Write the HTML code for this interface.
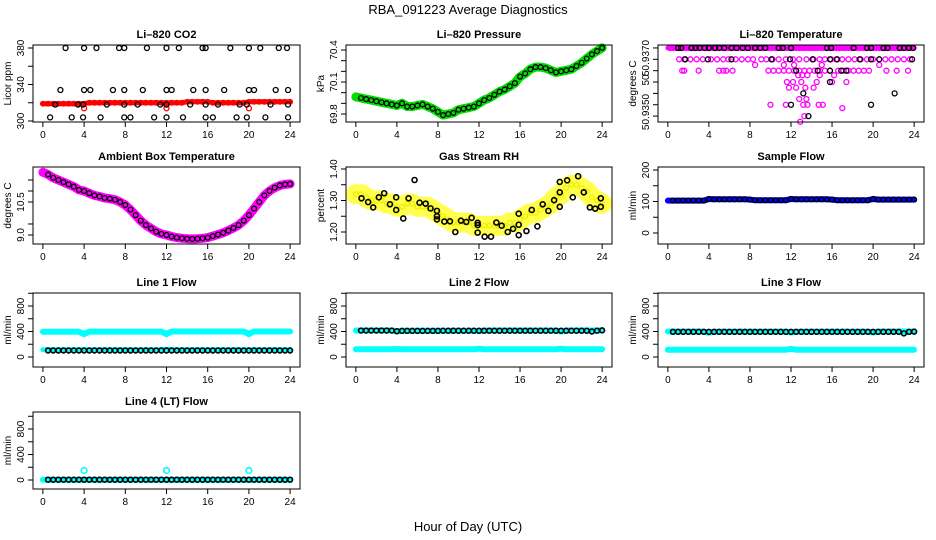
<!DOCTYPE html>
<html><head><meta charset="utf-8">
<style>
html,body{margin:0;padding:0;background:#fff;}
svg{display:block;font-family:"Liberation Sans",Arial,sans-serif;}
</style></head>
<body>
<svg id="chart" width="936" height="540" viewBox="0 0 936 540" xmlns="http://www.w3.org/2000/svg">
<rect width="936" height="540" fill="#fff"/>
<text x="468" y="14" text-anchor="middle" font-size="13">RBA_091223  Average Diagnostics</text>
<text x="468" y="531" text-anchor="middle" font-size="13">Hour of Day (UTC)</text>
</svg>
<script>
const gridHours=[0,0.5,1,1.5,2,2.5,3,3.5,4,4.5,5,5.5,6,6.5,7,7.5,8,8.5,9,9.5,10,10.5,11,11.5,12,12.5,13,13.5,14,14.5,15,15.5,16,16.5,17,17.5,18,18.5,19,19.5,20,20.5,21,21.5,22,22.5,23,23.5,24];
const xTicks=[0,4,8,12,16,20,24];

// CO2
const co2Red=[319,319,319,319,319,319,319,319,319,320,320,320,320,320,320,320,320,320,320,320,320,320,320,320,320,320,320,320,321,321,321,321,321,320,320,320,320,320,320,320,321,321,321,321,321,321,321,321,321];
const co2OutHours=[4,12,20];
const co2OutVals=[314,314,314];
const co2BlackHours=[2.2,4,5.2,7.4,7.9,10.1,12,13.2,15.5,15.8,18.2,20,21.1,22.9,23.7,1.7,4,4.6,6.8,7.9,9.7,12,12.5,14.6,15.8,17.6,20,20.5,22.6,23.8,1.2,3.4,3.9,6.2,7.9,9.2,11.4,12,14.3,15.8,17,19.1,19.8,22.1,23.8,0.7,2.8,3.9,5.6,7.9,8.5,10.8,12,13.6,15.8,16.5,18.8,19.8,21.6,23.8];
const co2BlackVals=[380,380,380,380,380,380,380,380,380,380,380,380,380,380,380,334,334,334,334,334,334,334,334,334,334,334,334,334,334,334,318,318,318,318,318,318,318,318,318,318,318,318,318,318,318,304,304,304,304,304,304,304,304,304,304,304,304,304,304,304];

// Pressure
const presGreen=[69.96,69.95,69.94,69.93,69.92,69.91,69.90,69.89,69.88,69.90,69.87,69.87,69.88,69.89,69.87,69.85,69.82,69.79,69.80,69.81,69.84,69.85,69.86,69.87,69.90,69.93,69.95,69.98,70.01,70.03,70.06,70.09,70.15,70.18,70.22,70.24,70.24,70.23,70.21,70.19,70.20,70.21,70.22,70.25,70.28,70.32,70.36,70.39,70.42];

// Li-820 temperature
const tempMagHours=[0.2,0.5,0.8,1.1,1.4,1.7,2,2.3,2.6,2.9,3.2,3.5,3.8,4.1,4.4,4.7,5,5.3,5.6,5.9,6.2,6.5,6.8,7.1,7.4,7.7,8,8.3,8.6,8.9,9.2,9.5,9.8,10.1,10.4,10.7,11,11.3,11.6,11.9,12.2,12.5,12.8,13.1,13.4,13.7,14,14.3,14.6,14.9,15.2,15.5,15.8,16.1,16.4,16.7,17,17.3,17.6,17.9,18.2,18.5,18.8,19.1,19.4,19.7,20,20.3,20.6,20.9,21.2,21.5,21.8,22.1,22.4,22.7,23,23.3,23.6,23.9,
1.1,1.6,2.2,2.8,3.4,4.2,4.8,5.4,5.9,6.6,7.2,7.8,8.3,9.1,9.6,10.2,10.8,11.5,12.2,12.8,13.5,14.2,14.8,15.3,15.9,16.4,17,17.6,18.2,18.8,19.4,20,20.6,21.2,21.8,22.4,23,23.6,
1.4,1.6,3,5,5.4,5.7,6.3,9.8,10.3,10.8,11.3,11.8,12.3,12.8,13.3,13.8,14.3,14.8,15.3,15.8,16.6,17.1,17.6,18.1,18.6,19.1,19.6,21.3,22.3,23.4,
8.5,11.3,12.3,15,20.6,12.7,13.1,13.6,14.8,16.2,11.6,12.2,13,14.5,16,17.4,11.8,12.5,13.4,14.2,12.8,13.5,10,11.5,13.2,13.6,14.7,15.1,17,13.3,12.9];
const tempMagVals=[50.9375,50.9375,50.9375,50.9375,50.9375,50.9375,50.9375,50.9375,50.9375,50.9375,50.9375,50.9375,50.9375,50.9375,50.9375,50.9375,50.9375,50.9375,50.9375,50.9375,50.9375,50.9375,50.9375,50.9375,50.9375,50.9375,50.9375,50.9375,50.9375,50.9375,50.9375,50.9375,50.9375,50.9375,50.9375,50.9375,50.9375,50.9375,50.9375,50.9375,50.9375,50.9375,50.9375,50.9375,50.9375,50.9375,50.9375,50.9375,50.9375,50.9375,50.9375,50.9375,50.9375,50.9375,50.9375,50.9375,50.9375,50.9375,50.9375,50.9375,50.9375,50.9375,50.9375,50.9375,50.9375,50.9375,50.9375,50.9375,50.9375,50.9375,50.9375,50.9375,50.9375,50.9375,50.9375,50.9375,50.9375,50.9375,50.9375,50.9375,
50.937,50.937,50.937,50.937,50.937,50.937,50.937,50.937,50.937,50.937,50.937,50.937,50.937,50.937,50.937,50.937,50.937,50.937,50.937,50.937,50.937,50.937,50.937,50.937,50.937,50.937,50.937,50.937,50.937,50.937,50.937,50.937,50.937,50.937,50.937,50.937,50.937,50.937,
50.9365,50.9365,50.9365,50.9365,50.9365,50.9365,50.9365,50.9365,50.9365,50.9365,50.9365,50.9365,50.9365,50.9365,50.9365,50.9365,50.9365,50.9365,50.9365,50.9365,50.9365,50.9365,50.9365,50.9365,50.9365,50.9365,50.9365,50.9365,50.9365,50.9365,
50.93675,50.93675,50.93675,50.93675,50.93675,50.9363,50.9363,50.9363,50.9363,50.9363,50.9360,50.9360,50.9360,50.9360,50.9360,50.9360,50.93575,50.93575,50.93575,50.93575,50.93525,50.93525,50.9350,50.9350,50.9350,50.9350,50.9350,50.9350,50.93485,50.9345,50.93425];
const tempBlackHours=[1,1.3,2.3,2.7,3.1,3.6,4,4.6,5,5.5,6.2,6.7,7.3,7.8,8.5,9,9.5,10.8,11.2,12,15.5,15.9,18.1,19.4,19.8,21,21.4,22.6,23,23.5,23.9,1.7,3.9,6.2,10.1,11.9,14.1,15.8,16.5,18.7,19.8,20.6,23.8,12.5,14.6,15.8,16.9,17.4,15.8,13.2,22.1,12,19.8,13.7];
const tempBlackVals=[50.9375,50.9375,50.9375,50.9375,50.9375,50.9375,50.9375,50.9375,50.9375,50.9375,50.9375,50.9375,50.9375,50.9375,50.9375,50.9375,50.9375,50.9375,50.9375,50.9375,50.9375,50.9375,50.9375,50.9375,50.9375,50.9375,50.9375,50.9375,50.9375,50.9375,50.9375,50.937,50.937,50.937,50.937,50.937,50.937,50.937,50.937,50.937,50.937,50.937,50.937,50.9365,50.9365,50.9365,50.9365,50.9365,50.9360,50.9355,50.9355,50.9350,50.9350,50.9345];

// Ambient box temperature
const ambMag=[11.85,11.75,11.6,11.5,11.4,11.3,11.2,11.05,11.0,10.9,10.8,10.75,10.68,10.65,10.6,10.5,10.36,10.15,9.9,9.65,9.45,9.3,9.15,9.05,9.0,8.93,8.88,8.85,8.83,8.82,8.83,8.85,8.88,8.95,9.02,9.1,9.2,9.32,9.45,9.65,9.9,10.2,10.5,10.8,11.0,11.15,11.25,11.3,11.32];

// Gas stream RH
const rhYellow=[1.32,1.32,1.31,1.30,1.30,1.30,1.29,1.29,1.28,1.28,1.29,1.29,1.28,1.28,1.28,1.27,1.26,1.25,1.24,1.23,1.23,1.23,1.23,1.22,1.22,1.22,1.22,1.22,1.22,1.22,1.23,1.23,1.24,1.25,1.26,1.26,1.27,1.28,1.29,1.31,1.32,1.34,1.35,1.35,1.34,1.33,1.31,1.30,1.29];
const rhBlackHours=[0.55,1.2,1.69,2.24,2.76,3.32,3.93,3.93,4.62,5.14,5.72,6.21,6.8,7.28,7.9,7.9,7.9,8.62,9.17,9.69,10.24,10.76,11.28,11.87,11.87,11.87,12.55,13.17,13.69,14.21,14.8,15.32,15.87,15.87,15.87,16.62,17.14,17.69,18.21,18.76,19.32,19.87,19.87,19.87,20.59,21.14,21.66,22.21,22.8,23.32,23.87,23.87];
const rhBlackVals=[1.307,1.295,1.278,1.31,1.323,1.288,1.27,1.31,1.243,1.307,1.365,1.293,1.29,1.275,1.25,1.267,1.24,1.233,1.234,1.2,1.236,1.232,1.245,1.229,1.222,1.198,1.185,1.185,1.23,1.22,1.2,1.21,1.258,1.223,1.19,1.203,1.27,1.218,1.288,1.267,1.301,1.359,1.326,1.28,1.364,1.31,1.377,1.326,1.278,1.274,1.307,1.28];

// Sample flow
const sampleBlue=[103,103,103,103,103,103,103,103,108,107,107,107,107,107,107,107,106,104,104,104,104,104,104,104,108,107,107,107,107,107,107,107,106,104,104,104,104,104,104,104,108,106,106,106,106,106,106,106,106];

// Line flows
const l1High=[395,395,395,395,395,395,395,395,360,398,398,398,398,398,398,398,398,398,398,398,398,398,398,398,360,400,400,400,400,400,400,400,400,400,400,400,400,400,400,400,360,400,400,400,400,400,400,400,400];
const l1Low=[115,115,115,115,115,115,115,115,115,115,115,115,115,115,115,115,115,115,115,115,115,115,115,115,120,115,115,115,115,115,115,115,115,115,115,115,115,115,115,115,115,115,115,115,115,115,115,115,115];
const l1Black=[102,102,102,102,102,102,102,102,102,102,102,102,102,102,102,102,102,102,102,102,102,102,102,102,102,102,102,102,102,102,102,102,102,102,102,102,102,102,102,102,102,102,102,102,102,102,102,102,102];
const l2High=[415,415,415,415,415,415,415,415,400,412,412,412,412,412,412,412,412,412,412,412,412,412,412,412,405,415,415,415,415,415,415,415,415,415,415,415,415,415,415,415,400,415,415,415,415,415,415,415,418];
const l2Low=[120,120,120,120,120,120,120,120,125,120,120,120,120,120,120,120,120,120,120,120,120,120,120,120,130,120,120,120,120,120,120,120,120,120,120,120,120,120,120,120,130,120,120,120,120,120,120,120,120];
const l2Black=[415,415,415,415,415,415,415,415,405,410,410,410,410,410,410,410,410,412,412,412,412,412,412,412,412,412,412,412,412,412,412,412,412,412,412,412,412,412,412,412,412,412,412,412,412,412,400,412,418];
const l3High=[400,400,400,400,400,400,400,400,380,398,398,398,398,398,398,398,398,398,398,398,398,398,398,398,385,398,398,398,398,398,398,398,398,398,398,398,398,398,398,398,385,400,400,400,400,400,400,400,400];
const l3Low=[115,115,115,115,115,115,115,115,115,115,115,115,115,115,115,115,115,115,115,115,115,115,115,115,125,115,115,115,115,115,115,115,115,115,115,115,115,115,115,115,115,115,115,115,115,115,115,115,115];
const l3Black=[395,395,395,395,395,395,395,395,395,395,395,395,395,395,395,395,395,395,395,395,395,395,395,395,395,395,395,395,395,395,395,395,395,395,395,395,395,395,395,395,395,395,395,395,395,395,370,395,398];
const l4Cyan=[5,5,5,5,5,5,5,5,5,5,5,5,5,5,5,5,5,5,5,5,5,5,5,5,5,5,5,5,5,5,5,5,5,5,5,5,5,5,5,5,5,5,5,5,5,5,5,5,5];
const l4Black=[5,5,5,5,5,5,5,5,5,5,5,5,5,5,5,5,5,5,5,5,5,5,5,5,5,5,5,5,5,5,5,5,5,5,5,5,5,5,5,5,5,5,5,5,5,5,5,5,5];
const l4OutHours=[4,12,20];
const l4OutVals=[150,150,150];

const NS="http://www.w3.org/2000/svg";
const svg=document.getElementById('chart');
const cols=[[33,300],[346,612],[658,924]];
const rows=[[45,122],[167,244],[293,367],[412,489]];

function el(tag,attrs,parent){const e=document.createElementNS(NS,tag);for(const k in attrs)e.setAttribute(k,attrs[k]);(parent||svg).appendChild(e);return e;}

function makePanel(id,c,r,title,ylab,ymin,ymax,yticks,ylabVals,ylabTexts){
  const L=cols[c][0],R=cols[c][1],T=rows[r][0],B=rows[r][1];
  const g=el('g',{});
  
  
  const xs=h=>L+(h+0.96)/25.92*(R-L);
  const ys=v=>T+(ymax-v)/(ymax-ymin)*(B-T);
  const t=el('text',{x:(L+R)/2,y:T-7,'text-anchor':'middle','font-size':11,'font-weight':'bold'},g);
  t.textContent=title;
  
  
  const yl=el('text',{x:0,y:0,'text-anchor':'middle','font-size':10,transform:`translate(${L-22},${(T+B)/2}) rotate(-90)`},g);
  yl.textContent=ylab;
  
  
  const data=el('g',{},g);
  
  
  const box=el('rect',{x:L,y:T,width:R-L,height:B-T,fill:'none',stroke:'#000','stroke-width':1},g);
  
  
  const xa=el('g',{},g);
  
  
  xTicks.forEach(h=>{
    el('line',{x1:xs(h),x2:xs(h),y1:B,y2:B+5,stroke:'#000'},xa);
    const tx=el('text',{x:xs(h),y:B+16,'text-anchor':'middle','font-size':10},xa);
    tx.textContent=h;
  });
  const ya=el('g',{},g);
  
  
  yticks.forEach(v=>el('line',{x1:L-5,x2:L,y1:ys(v),y2:ys(v),stroke:'#000'},ya));
  ylabVals.forEach((v,i)=>{
    const tx=el('text',{x:0,y:0,'text-anchor':'middle','font-size':10,transform:`translate(${L-9},${ys(v)}) rotate(-90)`},ya);
    tx.textContent=ylabTexts[i];
  });
  return {xs,ys,data};
}
function band(p,hours,vals,color,w){
  const pts=hours.map((h,i)=>p.xs(h).toFixed(1)+','+p.ys(vals[i]).toFixed(1)).join(' ');
  const pl=el('polyline',{points:pts,fill:'none',stroke:color,'stroke-width':w,'stroke-linejoin':'round','stroke-linecap':'round'},p.data);
  
  
}
function pts(p,hours,vals,color,r,sw){
  hours.forEach((h,i)=>{
    const c=el('circle',{cx:p.xs(h),cy:p.ys(vals[i]),r:r,fill:'none',stroke:color,'stroke-width':sw||1.3},p.data);
    
    
  });
}
const halfHours=gridHours.slice(1);

// CO2
let p=makePanel('co2',0,0,'Li\u2013820 CO2','Licor ppm',298.9,383.3,[300,320,340,360,380],[300,340,380],['300','340','380']);
band(p,gridHours,co2Red,'#ff0000',5);
pts(p,gridHours,co2Red,'#ff0000',2.3);
pts(p,co2OutHours,co2OutVals,'#ff0000',2.5);
pts(p,co2BlackHours,co2BlackVals,'#000',2.5);

// Pressure
p=makePanel('pressure',1,0,'Li\u2013820 Pressure','kPa',69.725,70.447,[69.8,69.9,70.0,70.1,70.2,70.3,70.4],[69.8,70.1,70.4],['69.8','70.1','70.4']);
band(p,gridHours,presGreen,'#00dd00',9);
pts(p,halfHours,presGreen.slice(1),'#000',2.4);

// Li temp
p=makePanel('li-temp',2,0,'Li\u2013820 Temperature','degrees C',50.93424,50.93763,[50.9345,50.935,50.9355,50.936,50.9365,50.937,50.9375],[50.93468,50.93609,50.93706],['50.9350','50','50.9370']);
band(p,[0,24],[50.9375,50.9375],'#ff00ff',5);
pts(p,tempMagHours,tempMagVals,'#ff00ff',2.5);
pts(p,tempBlackHours,tempBlackVals,'#000',2.5);

// Ambient
p=makePanel('ambient-temp',0,1,'Ambient Box Temperature','degrees C',8.59,12.09,[9,9.5,10.5,11,11.5],[9,10.5],['9.0','10.5']);
band(p,gridHours,ambMag,'#ff00ff',9);
pts(p,halfHours,ambMag.slice(1),'#000',2.4);

// RH
p=makePanel('rh',1,1,'Gas Stream RH','percent',1.1619,1.4063,[1.2,1.25,1.3,1.35,1.4],[1.2,1.3,1.4],['1.20','1.30','1.40']);
band(p,gridHours,rhYellow,'rgba(255,255,0,0.7)',20);
pts(p,gridHours,rhYellow,'#eeee00',2.3);
pts(p,rhBlackHours,rhBlackVals,'#000',2.5,1.6);

// Sample flow
p=makePanel('sample-flow',2,1,'Sample Flow','ml/min',-34.9,209.5,[0,50,100,150,200],[0,100,200],['0','100','200']);
band(p,gridHours,sampleBlue,'#0000ff',6);
pts(p,halfHours,sampleBlue.slice(1),'#000',2.4);

const fT=[0,200,400,600,800,1000];
p=makePanel('line1-flow',0,2,'Line 1 Flow','ml/min',-157,1004,fT,[0,400,800],['0','400','800']);
band(p,gridHours,l1High,'#00ffff',6);
pts(p,[4,12,20],[360,360,360],'#00ffff',2.5);
band(p,gridHours,l1Low,'#00ffff',5);
pts(p,halfHours,l1Black.slice(1),'#000',2.4,1.6);

p=makePanel('line2-flow',1,2,'Line 2 Flow','ml/min',-157,1004,fT,[0,400,800],['0','400','800']);
band(p,gridHours,l2High,'#00ffff',6);
band(p,gridHours,l2Low,'#00ffff',6);
pts(p,halfHours,l2Black.slice(1),'#000',2.4,1.6);

p=makePanel('line3-flow',2,2,'Line 3 Flow','ml/min',-157,1004,fT,[0,400,800],['0','400','800']);
band(p,gridHours,l3High,'#00ffff',6);
band(p,gridHours,l3Low,'#00ffff',6);
pts(p,halfHours,l3Black.slice(1),'#000',2.4,1.6);

p=makePanel('line4-flow',0,3,'Line 4 (LT) Flow','ml/min',-141,1067,fT,[0,400,800],['0','400','800']);
band(p,gridHours,l4Cyan,'#00ffff',6);
pts(p,halfHours,l4Black.slice(1),'#000',2.4,1.6);
pts(p,l4OutHours,l4OutVals,'#00ffff',2.8,1.6);
</script>
</body></html>
